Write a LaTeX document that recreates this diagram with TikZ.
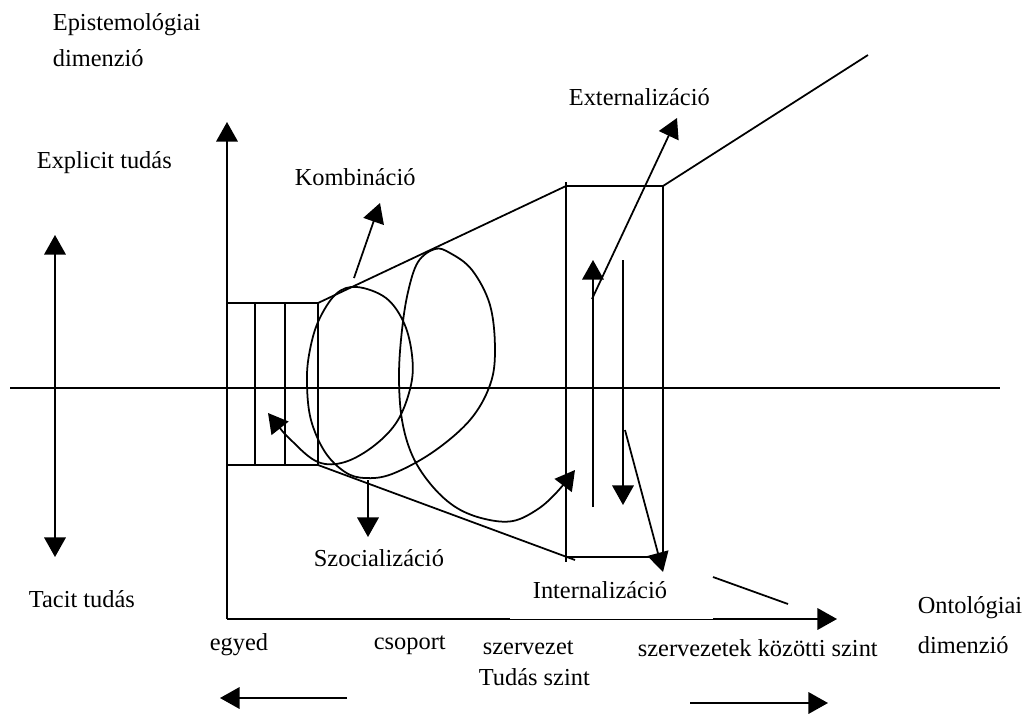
\documentclass[tikz,border=0pt]{standalone}
\usepackage{fontspec}
\setmainfont{Liberation Serif}
\usetikzlibrary{arrows.meta}
\begin{document}
\begin{tikzpicture}[
    x=0.018cm, y=-0.018cm,
    line width=0.9pt,
    lbl/.style={anchor=west, inner sep=0pt, font=\fontsize{12.5}{15}\selectfont},
    arr/.style={-{Triangle[length=10pt,width=11pt]}},
    darr/.style={{Triangle[length=10pt,width=11pt]}-{Triangle[length=10pt,width=11pt]}}
  ]
  \useasboundingbox (0,0) rectangle (1028,715);
  \node (epi) [lbl] at (52,25) {Epistemológiai};
  \node (epidim) [lbl] at (52,58) {dimenzió};
  \node (expl) [lbl] at (36,163) {Explicit tudás};
  \node (tacit) [lbl] at (28,599) {Tacit tudás};
  \node (komb) [lbl] at (294,177) {Kombináció};
  \node (ext) [lbl] at (568,97) {Externalizáció};
  \node (szoc) [lbl] at (313,558) {Szocializáció};
  \node (intern) [lbl] at (532,590) {Internalizáció};
  \node (egyed) [lbl] at (209,645) {egyed};
  \node (csop) [lbl] at (373,645) {csoport};
  \node (szerv) [lbl] at (482,648) {szervezet};
  \node (tudas) [lbl] at (478,677) {Tudás szint};
  \node (kozotti) [lbl] at (637,648) {szervezetek közötti szint};
  \node (onto) [lbl] at (917,608) {Ontológiai};
  \node (ontodim) [lbl] at (917,645) {dimenzió};

  \coordinate (lt) at (55,235);
  \coordinate (lb) at (55,557);
  \coordinate (hl) at (10,388);
  \coordinate (hr) at (1000,388);
  \coordinate (o) at (227,619);
  \coordinate (ytip) at (227,122);
  \coordinate (xa) at (510,619);
  \coordinate (xb) at (713,619);
  \coordinate (xtip) at (837,619);
  \coordinate (bnw) at (227,303);
  \coordinate (bne) at (318,303);
  \coordinate (bse) at (318,465);
  \coordinate (rnw) at (566,186);
  \coordinate (rne) at (663,186);
  \coordinate (rse) at (663,557);
  \coordinate (cone) at (575,560);
  \coordinate (far) at (868,55);

  \draw[darr] (lt) -- (lb);
  \draw (hl) -- (hr);
  \draw[arr] (o) -- (ytip);
  \draw (o) -- (xa);
  \draw[line width=0.4pt] (xa) -- (xb);
  \draw[arr] (xb) -- (xtip);
  \draw (bnw) rectangle (bse);
  \foreach \x in {255,285} \draw (\x,303) -- (\x,465);
  \draw (bne) -- (rnw) -- (rne) -- (far);
  \draw (bse) -- (cone);
  \draw (566,182) -- (566,562);
  \draw (rne) -- (rse) -- (566,557);

  \draw[darr] plot[smooth, tension=0.6] coordinates {
    (268,413) (292,441) (318,462) (345,462) (375,445) (398,420) (411,385)
    (412,355) (404,323) (386,298) (357,287) (336,294) (318,322) (309,355)
    (307,385) (311,420) (325,452) (345,472) (365,478) (392,474) (433,452)
    (470,420) (490,385) (495,350) (490,305) (472,270) (450,253) (435,249)
    (418,262) (408,292) (402,330) (399,375) (402,420) (413,457) (433,487)
    (457,508) (485,519) (513,521) (538,509) (557,492) (575,470)};

  \draw[arr] (354,278) -- (380,203);
  \draw[arr] (368,480) -- (368,537);
  \draw[arr] (592,299) -- (677,118);
  \draw[arr] (593,507) -- (593,260);
  \draw[arr] (623,260) -- (623,505);
  \draw[arr] (625,430) -- (663,572);
  \draw (713,577) -- (788,604);
  \draw[arr] (347,698) -- (220,698);
  \draw[arr] (690,703) -- (828,703);
\end{tikzpicture}
\end{document}
